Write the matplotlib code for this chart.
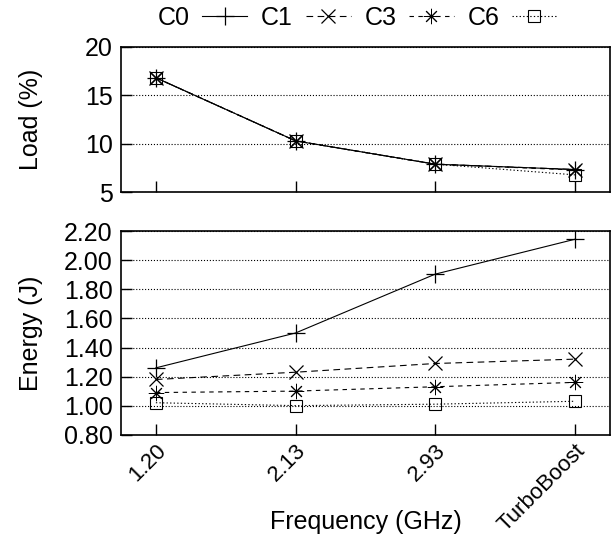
import matplotlib.pyplot as plt
import numpy as np

plt.rcParams['font.family'] = ['Liberation Sans', 'DejaVu Sans']
plt.rcParams['font.size'] = 18

freqs = ["1.20", "2.13", "2.93", "TurboBoost"]
series = ["C0", "C1", "C3", "C6"]

load_c0 = [16.8, 10.3, 7.9, 7.35]
load_c1 = [16.8, 10.3, 7.9, 7.35]
load_c3 = [16.8, 10.3, 7.9, 7.3]
load_c6 = [16.8, 10.3, 7.9, 6.8]

energy_c0 = [1.26, 1.50, 1.905, 2.145]
energy_c1 = [1.18, 1.23, 1.29, 1.32]
energy_c3 = [1.09, 1.10, 1.13, 1.16]
energy_c6 = [1.02, 1.00, 1.01, 1.03]

styles = [
    dict(ls="-", marker="+", ms=13, mew=0.9),
    dict(ls=(0, (6, 4)), marker="x", ms=10, mew=0.9),
    dict(ls=(0, (4, 4)), marker=(8, 2, 0), ms=11, mew=0.7),
    dict(ls=(0, (1.2, 2)), marker="s", ms=9, mew=0.8, mfc="none"),
]

x = np.arange(len(freqs))

fig = plt.figure(figsize=(6.11, 5.41), dpi=100)
ax1 = fig.add_axes([0.198, 0.6445, 0.8, 0.2692])
ax2 = fig.add_axes([0.198, 0.1965, 0.8, 0.376])

for vals, name, st in zip([load_c0, load_c1, load_c3, load_c6], series, styles):
    ax1.plot(x, vals, color="black", lw=0.8, label=name, **st)
for vals, name, st in zip([energy_c0, energy_c1, energy_c3, energy_c6], series, styles):
    ax2.plot(x, vals, color="black", lw=0.8, **st)

ax1.set_ylim(5, 20)
ax1.set_yticks([5, 10, 15, 20])
ax2.set_ylim(0.8, 2.2)
ax2.set_yticks(np.arange(0.8, 2.21, 0.2))
ax2.set_yticklabels(["%.2f" % v for v in np.arange(0.8, 2.21, 0.2)])

for ax in (ax1, ax2):
    ax.set_xlim(-0.25, 3.25)
    ax.set_xticks(x)
    ax.tick_params(direction="in", length=8, width=1, top=False, right=False, pad=6)
    ax.grid(axis="y", ls=":", color="black", lw=0.8)
    for s in ax.spines.values():
        s.set_linewidth(1.2)

ax1.set_xticklabels([])
ax2.set_xticklabels(freqs, rotation=45, ha="right", rotation_mode="anchor")
ax2.tick_params(axis="x", pad=4)
for lbl in ax2.get_xticklabels():
    lbl.set_fontsize(16)

ax1.set_ylabel("Load (%)")
ax2.set_ylabel("Energy (J)")
ax1.yaxis.set_label_coords(-0.16, 0.5)
ax2.yaxis.set_label_coords(-0.16, 0.5)
ax2.set_xlabel("Frequency (GHz)")
ax2.xaxis.set_label_coords(0.5, -0.37)

fig.legend(loc="center", bbox_to_anchor=(0.585, 0.967), ncol=4, frameon=False,
           markerfirst=False, handlelength=1.8, handletextpad=0.5,
           columnspacing=0.55, borderaxespad=0)

fig.savefig("out.png", dpi=100)
